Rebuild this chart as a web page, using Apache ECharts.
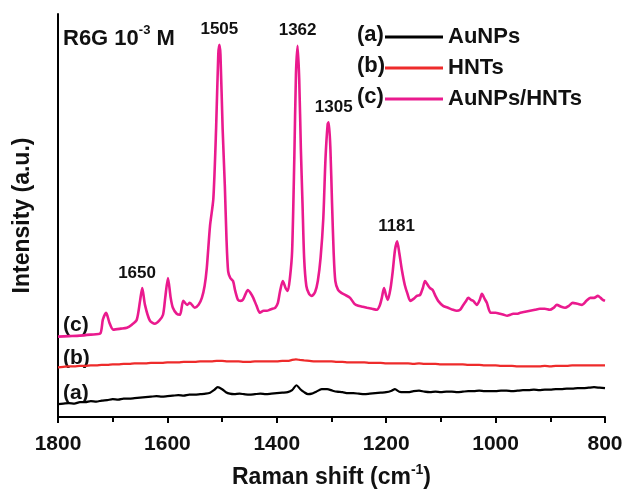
<!DOCTYPE html>
<html><head><meta charset="utf-8">
<script src="https://cdn.jsdelivr.net/npm/echarts@6/dist/echarts.min.js"></script>
<style>html,body{margin:0;padding:0;background:#fff}#c{width:626px;height:494px}</style>
</head><body><div id="c"></div>
<script>
// Raman shift (cm-1) / intensity (a.u.) pairs
const seriesNames = ['AuNPs', 'HNTs', 'AuNPs/HNTs'];
const seriesTags = ['(a)', '(b)', '(c)'];
const xTicks = [1800, 1600, 1400, 1200, 1000, 800];

const aAuNPs = [
 [1800,13],[1790,13.5],[1780,14],[1770,13.5],[1760,15],[1750,15],[1740,16],[1730,15.5],[1720,16.5],[1710,17],[1700,18],[1690,17.5],
 [1680,18.5],[1670,18.5],[1660,19],[1650,19.5],[1640,20],[1630,20.5],[1620,21],[1610,20.5],[1600,21],[1590,21.5],[1580,22],[1570,21.5],
 [1560,22.5],[1550,22.5],[1540,23],[1530,23.5],[1522,24.5],[1515,27],[1508,30],[1500,28],[1493,25],[1486,23.5],[1478,23],[1468,23.5],
 [1460,23],[1450,22.5],[1440,23],[1430,23.5],[1420,23],[1410,23.5],[1400,24],[1390,24.5],[1380,25],[1372,27],[1364,32],[1357,28],
 [1350,25],[1343,23],[1336,23.5],[1328,25.5],[1318,28],[1308,28],[1298,26.5],[1290,25.5],[1280,25],[1270,24],[1260,24],[1250,23.5],
 [1240,23],[1230,23.5],[1220,24],[1210,24.5],[1200,25],[1190,26.5],[1184,28],[1176,25.5],[1168,25],[1160,25],[1150,26],[1140,26.5],
 [1130,25.5],[1120,25],[1110,25.5],[1100,25],[1090,25.5],[1080,25.5],[1070,25],[1060,25.5],[1050,26],[1040,26],[1030,26.5],[1020,26],
 [1010,26],[1000,26],[990,26.5],[980,26.5],[970,26],[960,26.5],[950,27],[940,27],[930,27.5],[920,27],[910,27.5],[900,27.5],
 [890,28],[880,28],[870,28.5],[860,28.5],[850,29],[840,29],[830,29.5],[820,30],[810,29.5],[800,29]
];

const bHNTs = [
 [1800,50],[1790,50.5],[1780,51],[1770,51],[1760,51.5],[1750,51.5],[1740,52],[1730,52],[1720,52.5],[1710,52.5],[1700,53],[1690,53],
 [1680,53.5],[1670,53.5],[1660,54],[1650,54],[1640,54],[1630,54.5],[1620,54.5],[1610,54.5],[1600,55],[1590,55],[1580,55],[1570,55.5],
 [1560,55.5],[1550,55.5],[1540,56],[1530,56],[1520,56],[1510,56.5],[1500,56.5],[1490,56],[1480,56],[1470,56],[1460,55.5],[1450,55.5],
 [1440,56],[1430,56],[1420,56],[1410,56],[1400,56],[1390,56.5],[1380,56.5],[1372,57.5],[1365,58],[1358,57.5],[1350,57],[1340,56.5],
 [1330,56],[1320,56],[1310,56],[1300,56],[1290,55.5],[1280,55.5],[1270,55],[1260,55],[1250,55],[1240,55],[1230,54.5],[1220,54.5],
 [1210,54.5],[1200,54],[1190,54],[1180,54],[1170,54],[1160,54],[1150,53.5],[1140,54],[1130,53.5],[1120,53.5],[1110,53.5],[1100,53],
 [1090,53],[1080,53],[1070,53],[1060,53],[1050,52.5],[1040,52.5],[1030,52.5],[1020,52],[1010,52],[1000,52],[990,51.5],[980,51.5],
 [970,51.5],[960,51],[950,51],[940,51],[930,51],[920,51],[910,51.5],[900,51],[890,51.5],[880,51.5],[870,51.5],[860,52],
 [850,52],[840,52],[830,52],[820,52],[810,52],[800,52]
];

const cAuNPsHNTs = [
 [1800,81],[1780,81.5],[1760,82],[1740,83],[1723,84],[1718,98],[1712,105],[1706,95],[1699,88],[1685,89],[1674,90],[1665,93],
 [1656,98],[1650,117],[1646,130],[1641,113],[1632,97],[1623,94],[1615,97],[1608,103],[1604,120],[1599,140],[1594,120],[1590,110],
 [1583,104],[1577,103],[1571,117],[1564,113],[1559,115],[1550,110],[1543,113],[1537,120],[1532,132],[1528,150],[1522,193],[1516,220],
 [1511,290],[1507,365],[1505,375],[1503,365],[1499,290],[1495,233],[1492,180],[1489,147],[1485,140],[1480,137],[1476,127],[1471,118],
 [1466,117],[1462,118],[1457,124],[1453,128],[1448,125],[1443,120],[1437,112],[1431,105],[1424,107],[1418,107],[1413,108],[1408,109],
 [1403,110],[1398,115],[1394,127],[1389,137],[1384,130],[1380,127],[1376,140],[1372,167],[1368,260],[1365,345],[1362,374],[1359,340],
 [1356,270],[1353,215],[1350,160],[1346,132],[1341,124],[1336,122],[1330,126],[1325,137],[1320,160],[1315,200],[1311,260],[1307,295],
 [1305,297],[1302,270],[1299,215],[1296,165],[1293,137],[1288,128],[1282,125],[1275,123],[1266,120],[1258,114],[1251,112],[1243,111],
 [1235,110],[1226,109],[1217,108],[1212,112],[1208,120],[1204,130],[1200,122],[1197,118],[1192,130],[1188,147],[1184,168],[1180,177],
 [1176,165],[1171,147],[1166,133],[1161,124],[1156,117],[1150,119],[1144,122],[1138,123],[1133,130],[1129,137],[1124,133],[1120,130],
 [1115,128],[1110,122],[1105,117],[1096,112],[1087,110],[1078,108],[1071,107],[1065,108],[1060,112],[1055,116],[1050,120],[1045,118],
 [1041,117],[1034,113],[1029,118],[1025,124],[1020,119],[1016,115],[1009,105],[1000,105],[992,104],[985,103],[979,102],[973,103],
 [968,104],[961,104],[955,105],[946,106],[937,107],[928,108],[919,109],[910,109],[901,108],[894,110],[888,113],[880,111],
 [873,110],[866,112],[859,115],[850,114],[842,113],[834,117],[827,120],[820,120],[813,122],[808,120],[804,118],[800,117]
];

const peakLabels = [[1650,130],[1505,375],[1362,374],[1305,297],[1181,177]];

const colors = ['#000000', '#ee2b2b', '#ea1a8e'];
const F = 'Arial, "Liberation Sans", Helvetica, sans-serif';

const chart = echarts.init(document.getElementById('c'), null, {renderer: 'canvas'});
const dataSets = [aAuNPs, bHNTs, cAuNPsHNTs];

const series = dataSets.map((d, i) => ({
  name: seriesNames[i],
  type: 'line',
  data: d,
  symbol: 'none',
  smooth: 0.25,
  lineStyle: {color: colors[i], width: i === 2 ? 2.6 : 2.2},
  itemStyle: {color: colors[i]},
  z: 3 + i
}));

series[2].markPoint = {
  symbol: 'circle',
  symbolSize: 1,
  itemStyle: {color: 'rgba(0,0,0,0)'},
  label: {
    show: true, position: 'top', distance: 6,
    color: '#111', fontFamily: F, fontWeight: 'bold', fontSize: 17,
    formatter: p => String(p.data.coord[0])
  },
  data: peakLabels.map(p => ({coord: p, label: p[0] === 1305 ? {offset: [5, 0]} : (p[0] === 1650 ? {offset: [-3, 0]} : {})}))
};

const option = {
  animation: false,
  backgroundColor: '#fff',
  grid: {left: 58, right: 21, top: 14, bottom: 74},
  xAxis: {
    type: 'value', inverse: true, min: 800, max: 1800, interval: 200,
    name: '{t|Raman shift (cm}{s|-1}{t|)}',
    nameLocation: 'middle', nameGap: 46,
    nameTextStyle: {
      rich: {
        t: {fontFamily: F, fontWeight: 'bold', fontSize: 23, color: '#111', verticalAlign: 'bottom', lineHeight: 26},
        s: {fontFamily: F, fontWeight: 'bold', fontSize: 14, color: '#111', verticalAlign: 'top', lineHeight: 26}
      }
    },
    axisLine: {show: true, lineStyle: {color: '#000', width: 2}},
    axisTick: {show: true, inside: false, length: 6, lineStyle: {color: '#000', width: 2}},
    minorTick: {show: true, splitNumber: 2, length: 5, lineStyle: {color: '#000', width: 2}},
    axisLabel: {color: '#111', fontFamily: F, fontWeight: 'bold', fontSize: 21, margin: 17,
      formatter: v => xTicks.includes(v) ? String(v) : ''},
    splitLine: {show: false}
  },
  yAxis: {
    type: 'value', min: 0, max: 406,
    name: 'Intensity (a.u.)', nameLocation: 'middle', nameGap: 24,
    nameTextStyle: {fontFamily: F, fontWeight: 'bold', fontSize: 23, color: '#111'},
    axisLine: {show: true, lineStyle: {color: '#000', width: 2}},
    axisTick: {show: false}, axisLabel: {show: false}, splitLine: {show: false}
  },
  legend: {
    orient: 'vertical', left: 380, top: 21,
    itemWidth: 58, itemHeight: 3, itemGap: 9, itemTextGap: 6,
    icon: 'rect',
    data: seriesNames,
    textStyle: {fontFamily: F, fontWeight: 'bold', fontSize: 22, color: '#111'}
  },
  graphic: [
    {type: 'text', left: 63, top: 24, style: {
      text: '{a|R6G 10}{s|-3}{a| M}',
      rich: {
        a: {fontFamily: F, fontWeight: 'bold', fontSize: 22, fill: '#111', verticalAlign: 'bottom', lineHeight: 26},
        s: {fontFamily: F, fontWeight: 'bold', fontSize: 13, fill: '#111', verticalAlign: 'top', lineHeight: 26}
      }}},
    ...seriesTags.map((t, i) => ({type: 'text', left: 357, top: 24 + i * 31, style: {
      text: t, font: 'bold 22px ' + F, fill: '#111'}})),
    ...[[395, '(a)'], [360, '(b)'], [327, '(c)']].map(([y, t]) => ({type: 'text', left: 63, top: y - 12, style: {
      text: t, font: 'bold 21px ' + F, fill: '#111'}}))
  ],
  series: series
};
chart.setOption(option);
</script></body></html>
